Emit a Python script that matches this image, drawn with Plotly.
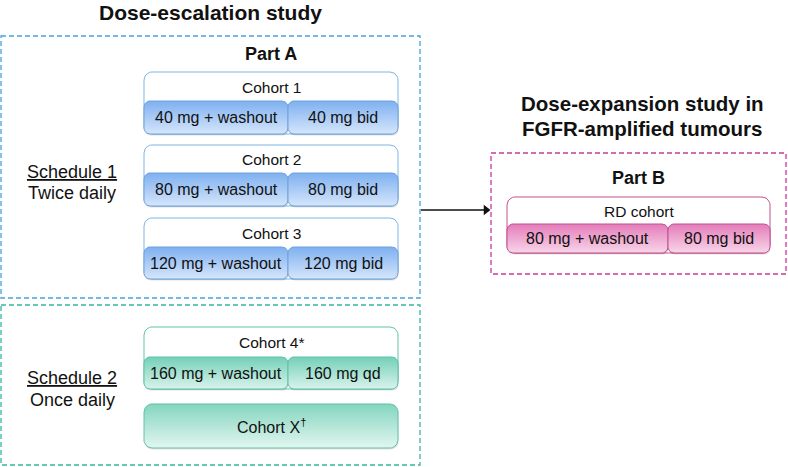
import numpy as np
import plotly.graph_objects as go

# ---- content ----
title_left = "Dose-escalation study"
title_right = ["Dose-expansion study in", "FGFR-amplified tumours"]
part_labels = ["Part A", "Part B"]
schedule_labels = [("Schedule 1", "Twice daily"), ("Schedule 2", "Once daily")]
cohort_labels = ["Cohort 1", "Cohort 2", "Cohort 3", "Cohort 4*"]
washout_labels = ["40 mg + washout", "80 mg + washout", "120 mg + washout", "160 mg + washout"]
maint_labels = ["40 mg bid", "80 mg bid", "120 mg bid", "160 mg qd"]
cohort_x_label = "Cohort X<sup>†</sup>"
rd_label = "RD cohort"
rd_washout = "80 mg + washout"
rd_maint = "80 mg bid"

FONT = "Liberation Sans, Arial, sans-serif"

BLUE = dict(top="#7eb0f0", bot="#d6e6fb", edge="#6ea3dc", outer="#7cb6e6", dash="#45a3de")
GREEN = dict(top="#74d0b8", bot="#d9f3eb", edge="#5cc3a7", outer="#5cc3a7", dash="#3ab59d")
PINK = dict(top="#e47cba", bot="#f8d6e9", edge="#c1508f", outer="#c1508f", dash="#c83a98")

fig = go.Figure()


def rrect(x0, y0, x1, y1, r, n=10):
    xs, ys = [], []
    corners = [
        (x1 - r, y0 + r, -np.pi / 2, 0),
        (x1 - r, y1 - r, 0, np.pi / 2),
        (x0 + r, y1 - r, np.pi / 2, np.pi),
        (x0 + r, y0 + r, np.pi, 1.5 * np.pi),
    ]
    for cx, cy, a0, a1 in corners:
        t = np.linspace(a0, a1, n)
        xs.extend(cx + r * np.cos(t))
        ys.extend(cy + r * np.sin(t))
    xs.append(xs[0])
    ys.append(ys[0])
    return xs, ys


def box(x0, y0, x1, y1, r, edge, fill=None, grad=None, width=1.0):
    xs, ys = rrect(x0, y0, x1, y1, r)
    kw = dict(x=xs, y=ys, mode="lines", fill="toself",
              line=dict(color=edge, width=width), hoverinfo="skip", showlegend=False)
    if grad:
        # colorscale 0 sits at `start` (top edge), 1 at `stop` (bottom edge)
        kw["fillgradient"] = dict(type="vertical", colorscale=[[0, grad[0]], [1, grad[1]]],
                                  start=y0, stop=y1)
    else:
        kw["fillcolor"] = fill
    fig.add_trace(go.Scatter(**kw))


def shadow(x0, y0, x1, y1, r):
    xs, ys = rrect(x0 + 0.5, y0 + 1.5, x1 + 0.5, y1 + 1.5, r)
    fig.add_trace(go.Scatter(x=xs, y=ys, mode="lines", fill="toself", fillcolor="rgba(0,0,0,0.12)",
                             line=dict(width=0), hoverinfo="skip", showlegend=False))


def text(x, y, s, size, bold=False, color="#111"):
    fig.add_annotation(x=x, y=y, text=f"<b>{s}</b>" if bold else s, showarrow=False,
                       xref="x", yref="y", xanchor="center", yanchor="middle",
                       font=dict(family=FONT, size=size, color=color))


def cohort(y_top, y_sub, y_bot, label, left, right, pal, x0=144, x1=398, xm=288):
    box(x0, y_top, x1, y_bot, 8, pal["outer"], fill="white")
    shadow(x0, y_sub, xm, y_bot, 6)
    shadow(xm, y_sub, x1, y_bot, 6)
    box(x0, y_sub, xm, y_bot, 6, pal["edge"], grad=(pal["top"], pal["bot"]))
    box(xm, y_sub, x1, y_bot, 6, pal["edge"], grad=(pal["top"], pal["bot"]))
    text((x0 + x1) / 2, (y_top + y_sub) / 2 + 0.5, label, 15.5)
    text((x0 + xm) / 2, (y_sub + y_bot) / 2, left, 16)
    text((xm + x1) / 2, (y_sub + y_bot) / 2, right, 16)


DASH = "5px,3px"
# dashed containers
shapes = [
    dict(type="rect", x0=1, y0=36, x1=420, y1=298, line=dict(color=BLUE["dash"], width=1.3, dash=DASH)),
    dict(type="rect", x0=1, y0=305, x1=420, y1=465, line=dict(color=GREEN["dash"], width=1.3, dash=DASH)),
    dict(type="rect", x0=491, y0=153, x1=786, y1=274, line=dict(color=PINK["dash"], width=1.3, dash=DASH)),
    # arrow shaft
    dict(type="line", x0=421, y0=210, x1=484, y1=210, line=dict(color="#111", width=1.4)),
]

# cohorts, Part A
ys = [(72, 101, 134), (145, 173, 206), (218, 247, 279)]
for (a, b, c), lab, l, r in zip(ys, cohort_labels[:3], washout_labels[:3], maint_labels[:3]):
    cohort(a, b, c, lab, l, r, BLUE)
cohort(327, 357, 389, cohort_labels[3], washout_labels[3], maint_labels[3], GREEN)

# Cohort X
shadow(144, 404, 398, 448, 8)
box(144, 404, 398, 448, 8, GREEN["edge"], grad=("#84d5bf", "#e2f6ef"))
text(271, 426, cohort_x_label, 16)

# Part B
cohort(197, 224, 253, rd_label, rd_washout, rd_maint, PINK, x0=507, x1=770, xm=668)

# texts
text(210, 12, title_left, 21, bold=True)
text(271, 54, part_labels[0], 18, bold=True)
text(642, 103, title_right[0], 20.5, bold=True)
text(642, 128, title_right[1], 20.5, bold=True)
text(638, 178, part_labels[1], 18, bold=True)
for (s1, s2), yc in zip(schedule_labels, [(172, 193), (378, 400)]):
    text(72, yc[0], f"<u>{s1}</u>", 18)
    text(72, yc[1], s2, 18)

# arrow head
fig.add_trace(go.Scatter(x=[486], y=[210], mode="markers", hoverinfo="skip", showlegend=False,
                         marker=dict(symbol="triangle-right", size=9, color="#111")))

fig.update_layout(
    width=788, height=467, margin=dict(l=0, r=0, t=0, b=0),
    paper_bgcolor="white", plot_bgcolor="white", shapes=shapes,
    xaxis=dict(range=[0, 788], visible=False, fixedrange=True),
    yaxis=dict(range=[467, 0], visible=False, fixedrange=True),
)
fig.write_html("out.html", config={"displayModeBar": False},
               post_script="document.body.style.margin='0';document.body.style.overflow='hidden';")
